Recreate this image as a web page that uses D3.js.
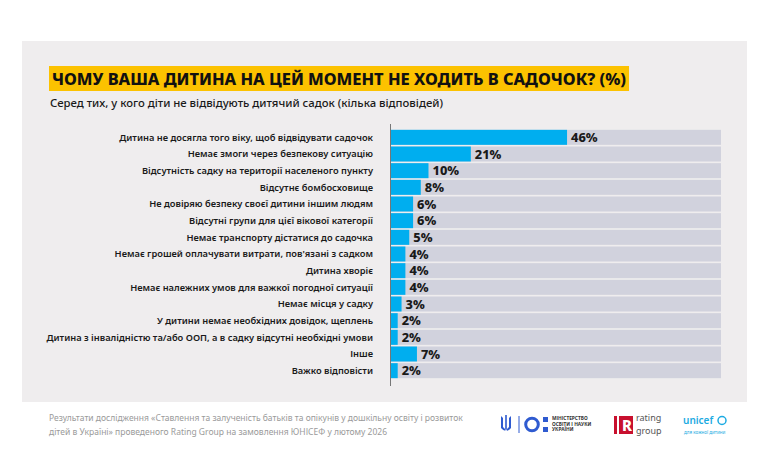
<!DOCTYPE html>
<html>
<head>
<meta charset="utf-8">
<script src="https://cdn.jsdelivr.net/npm/d3@7"></script>
<style>
  body { margin: 0; background: #fff; }
  svg { display: block; font-family: "Noto Sans", "DejaVu Sans", sans-serif; }
</style>
</head>
<body>
<div id="chart"></div>
<script>
// categories (top to bottom) and shares, %
var categories = [
  "Дитина не досягла того віку, щоб відвідувати садочок",
  "Немає змоги через безпекову ситуацію",
  "Відсутність садку на території населеного пункту",
  "Відсутнє бомбосховище",
  "Не довіряю безпеку своєї дитини іншим людям",
  "Відсутні групи для цієї вікової категорії",
  "Немає транспорту дістатися до садочка",
  "Немає грошей оплачувати витрати, пов'язані з садком",
  "Дитина хворіє",
  "Немає належних умов для важкої погодної ситуації",
  "Немає місця у садку",
  "У дитини немає необхідних довідок, щеплень",
  "Дитина з інвалідністю та/або ООП, а в садку відсутні необхідні умови",
  "Інше",
  "Важко відповісти"
];
var values = [46, 21, 10, 8, 6, 6, 5, 4, 4, 4, 3, 2, 2, 7, 2];
var xMax = 86;

var title = "ЧОМУ ВАША ДИТИНА НА ЦЕЙ МОМЕНТ НЕ ХОДИТЬ В САДОЧОК? (%)";
var subtitle = "Серед тих, у кого діти не відвідують дитячий садок (кілька відповідей)";
var footer = [
  "Результати дослідження «Ставлення та залученість батьків та опікунів у дошкільну освіту і розвиток",
  "дітей в Україні» проведеного Rating Group на замовлення ЮНІСЕФ у лютому 2026"
];

var W = 770, H = 472;
var svg = d3.select("#chart").append("svg").attr("width", W).attr("height", H);

// panel
svg.append("rect").attr("x", 22).attr("y", 41).attr("width", 725).attr("height", 361)
   .attr("fill", "#efedee");

// title with yellow highlight
var titleText = svg.append("text")
   .attr("x", 52).attr("y", 85)
   .attr("font-size", 16.4).attr("font-weight", 800).attr("fill", "#111")
   .text(title);
var tw = titleText.node().getComputedTextLength();
svg.insert("rect", "text").attr("x", 49).attr("y", 66).attr("width", tw + 6).attr("height", 25)
   .attr("fill", "#fcc200");

svg.append("text").attr("x", 50).attr("y", 107)
   .attr("font-size", 11.3).attr("font-weight", 500).attr("fill", "#1a1a1a")
   .text(subtitle);

// scales
var x = d3.scaleLinear().domain([0, xMax]).range([390, 721]);
var y = d3.scaleBand().domain(categories).range([129, 379]).paddingInner(0.1).paddingOuter(0.05);

var rows = svg.append("g").selectAll("g").data(categories).enter().append("g");

rows.append("rect")
   .attr("x", x(0)).attr("y", function(d){ return y(d); })
   .attr("width", x(xMax) - x(0)).attr("height", y.bandwidth())
   .attr("fill", "#d1d2dd");

rows.append("rect")
   .attr("x", x(0)).attr("y", function(d){ return y(d); })
   .attr("width", function(d, i){ return x(values[i]) - x(0); })
   .attr("height", y.bandwidth())
   .attr("fill", "#00aeef");

rows.append("text")
   .attr("x", function(d, i){ return x(values[i]) + 4; })
   .attr("y", function(d){ return y(d) + y.bandwidth() / 2; })
   .attr("dy", "0.36em")
   .attr("font-size", 12.8).attr("font-weight", 800).attr("fill", "#1a1a1a")
   .text(function(d, i){ return values[i] + "%"; });

rows.append("text")
   .attr("x", 373)
   .attr("y", function(d){ return y(d) + y.bandwidth() / 2; })
   .attr("dy", "0.36em").attr("text-anchor", "end")
   .attr("font-size", 9.3).attr("font-weight", 600).attr("fill", "#1a1a1a")
   .text(function(d){ return d; });

// axis line
svg.append("line").attr("x1", 390.5).attr("x2", 390.5).attr("y1", 124).attr("y2", 386)
   .attr("stroke", "#777").attr("stroke-width", 1);

// footer
svg.append("g").selectAll("text").data(footer).enter().append("text")
   .attr("x", 49).attr("y", function(d, i){ return 421 + i * 14; })
   .attr("font-size", 8.5).attr("fill", "#9a9a9a")
   .text(function(d){ return d; });

// logos (rough)
var logos = svg.append("g");
// ministry
logos.append("path").attr("d", "M501,416 L501,428 Q506,434 511,428 L511,416 L509,418 L509,427 L506,430 L503,427 L503,418 Z M505.2,415 L506.8,415 L506.8,431 L505.2,431 Z")
   .attr("fill", "#2f5bd0");
logos.append("line").attr("x1", 519).attr("x2", 519).attr("y1", 416).attr("y2", 433)
   .attr("stroke", "#2f5bd0").attr("stroke-width", 1);
logos.append("circle").attr("cx", 532).attr("cy", 424.5).attr("r", 6.3)
   .attr("fill", "none").attr("stroke", "#2f5bd0").attr("stroke-width", 3);
logos.append("rect").attr("x", 543).attr("y", 417).attr("width", 5).attr("height", 5).attr("fill", "#2f5bd0");
logos.append("rect").attr("x", 543).attr("y", 427).attr("width", 5).attr("height", 5).attr("fill", "#2f5bd0");
logos.append("g").selectAll("text").data(["МІНІСТЕРСТВО", "ОСВІТИ І НАУКИ", "УКРАЇНИ"]).enter().append("text")
   .attr("x", 552).attr("y", function(d, i){ return 420 + i * 5.5; })
   .attr("font-size", 4.8).attr("font-weight", 700).attr("fill", "#333")
   .text(function(d){ return d; });
// rating group
logos.append("rect").attr("x", 614).attr("y", 416).attr("width", 3).attr("height", 18).attr("fill", "#c8102e");
logos.append("rect").attr("x", 619).attr("y", 416).attr("width", 14).attr("height", 18).attr("fill", "#c8102e");
logos.append("text").attr("x", 622).attr("y", 431).attr("font-size", 15).attr("font-weight", 800)
   .attr("fill", "#fff").text("R");
logos.append("text").attr("x", 636).attr("y", 421).attr("font-size", 9).attr("fill", "#555").text("rating");
logos.append("text").attr("x", 636).attr("y", 434).attr("font-size", 9).attr("fill", "#555").text("group");
// unicef
logos.append("text").attr("x", 683).attr("y", 424).attr("font-size", 10).attr("font-weight", 600)
   .attr("fill", "#1cabe2").text("unicef");
logos.append("circle").attr("cx", 722).attr("cy", 420.5).attr("r", 4)
   .attr("fill", "none").attr("stroke", "#1cabe2").attr("stroke-width", 1.5);
logos.append("text").attr("x", 684).attr("y", 434).attr("font-size", 4.5)
   .attr("fill", "#1cabe2").text("для кожної дитини");
</script>
</body>
</html>
